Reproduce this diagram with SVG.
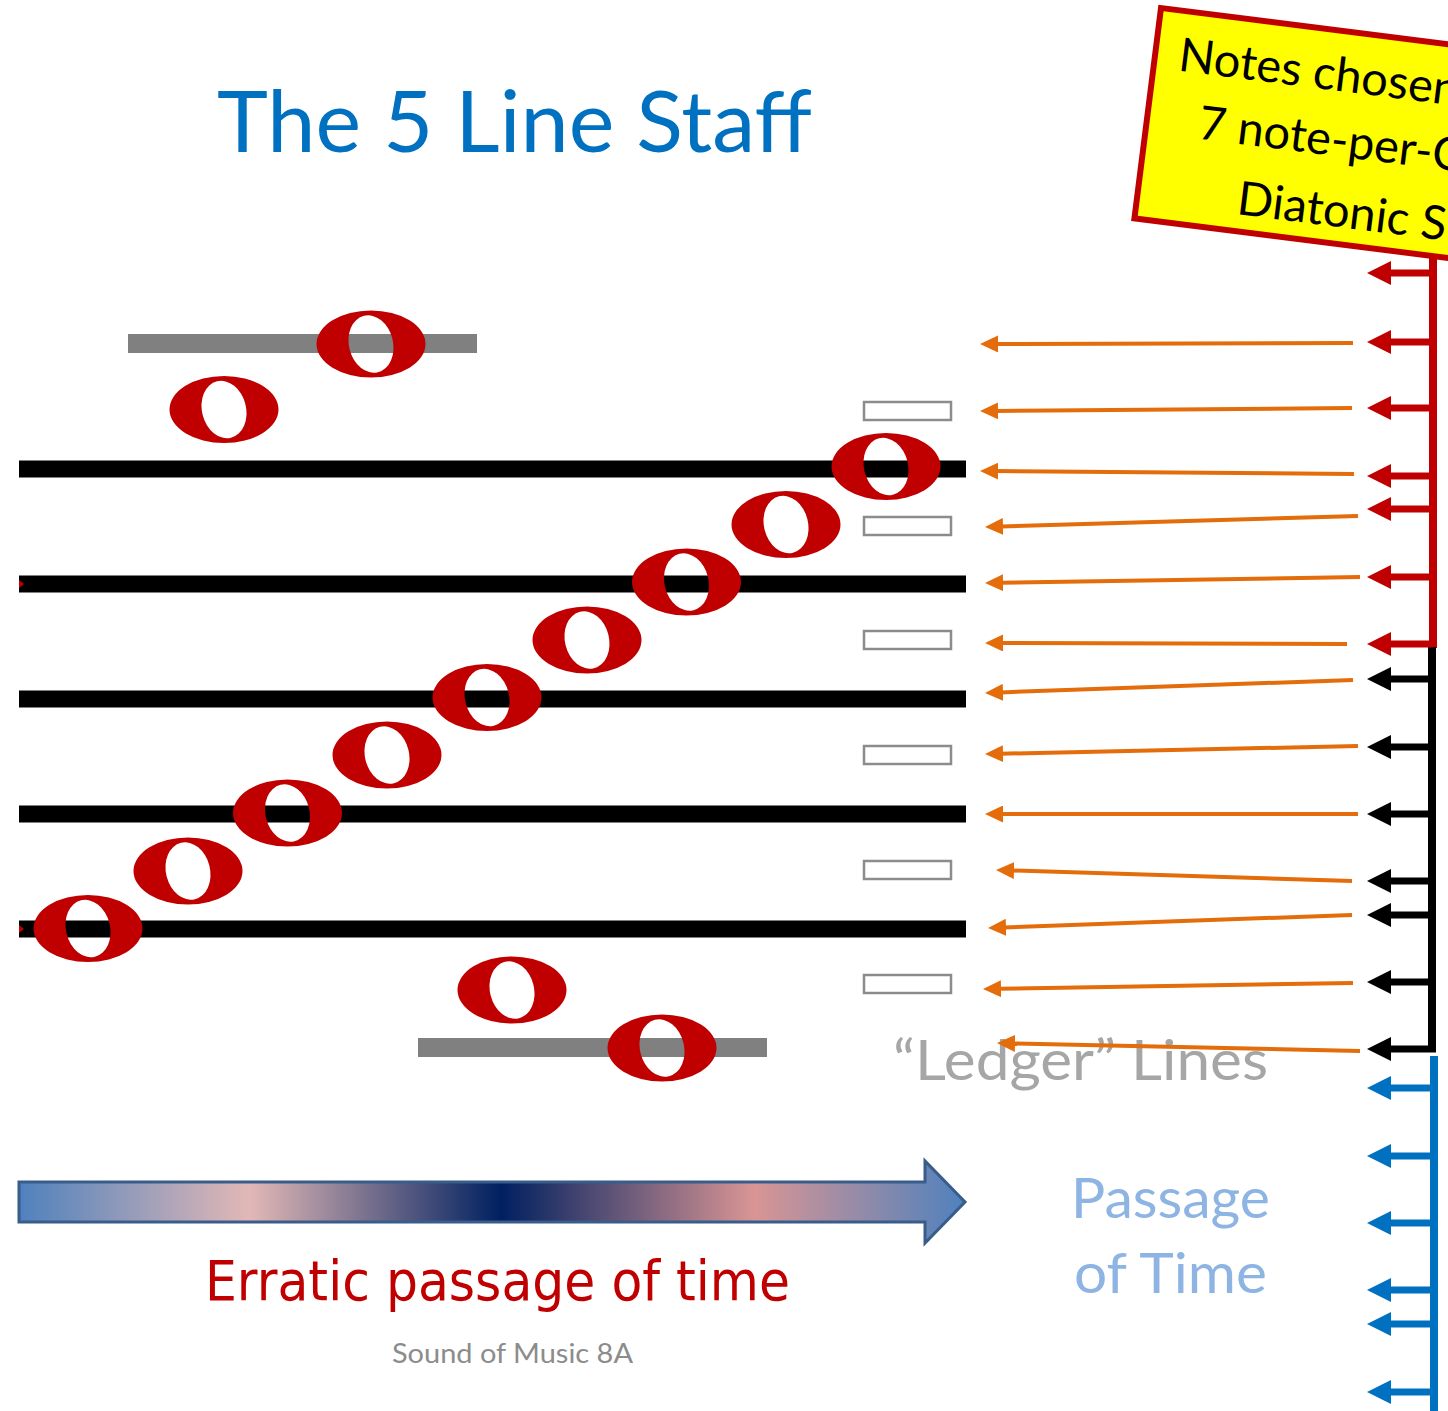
<svg xmlns="http://www.w3.org/2000/svg" width="1448" height="1411" viewBox="0 0 1448 1411">
<style>
.staff{fill:#000}
.ledger{fill:#808080}
.slot{fill:#fff;stroke:#8c8c8c;stroke-width:2.5}
.note{fill:#C00000;fill-rule:evenodd}
.orange{stroke:#E46C0A;stroke-width:4;fill:none;marker-end:url(#mO)}
.red{stroke:#C00000;stroke-width:7;marker-end:url(#mR)}
.black{stroke:#000;stroke-width:7;marker-end:url(#mK)}
.blue{stroke:#0070C0;stroke-width:7;marker-end:url(#mB)}
.sans{font-family:Lato,"Open Sans","Noto Sans",sans-serif}
</style>
<defs>
<path id="note" d="M-54.5,0 A54.5,33.5 0 1 0 54.5,0 A54.5,33.5 0 1 0 -54.5,0 Z M-7,-28.2 A22,29 -14 1 0 7,28.2 A22,29 -14 1 0 -7,-28.2 Z"/>
<marker id="mO" markerUnits="userSpaceOnUse" viewBox="0 0 18 17" markerWidth="18" markerHeight="17" refX="2" refY="8.5" orient="auto"><path d="M0,0 L18,8.5 L0,17 Z" fill="#E46C0A"/></marker>
<marker id="mR" markerUnits="userSpaceOnUse" viewBox="0 0 24 24" markerWidth="24" markerHeight="24" refX="1" refY="12" orient="auto"><path d="M0,0 L24,12 L0,24 Z" fill="#C00000"/></marker>
<marker id="mK" markerUnits="userSpaceOnUse" viewBox="0 0 24 24" markerWidth="24" markerHeight="24" refX="1" refY="12" orient="auto"><path d="M0,0 L24,12 L0,24 Z" fill="#000"/></marker>
<marker id="mB" markerUnits="userSpaceOnUse" viewBox="0 0 24 24" markerWidth="24" markerHeight="24" refX="1" refY="12" orient="auto"><path d="M0,0 L24,12 L0,24 Z" fill="#0070C0"/></marker>
<linearGradient id="gTime" gradientUnits="userSpaceOnUse" x1="19" y1="0" x2="965" y2="0">
<stop offset="0" stop-color="#4F81BD"/>
<stop offset="0.244" stop-color="#E2B8B6"/>
<stop offset="0.51" stop-color="#002060"/>
<stop offset="0.777" stop-color="#D99594"/>
<stop offset="1" stop-color="#4F81BD"/>
</linearGradient>
</defs>
<rect width="1448" height="1411" fill="#fff"/>

<g id="title"><text class="sans" x="217" y="152" font-size="86" fill="#0070C0" textLength="595" lengthAdjust="spacingAndGlyphs">The 5 Line Staff</text></g>

<g id="staff">
<rect class="staff" x="19" y="460.5" width="947" height="17"/>
<rect class="staff" x="19" y="575.5" width="947" height="17"/>
<rect class="staff" x="19" y="690.5" width="947" height="17"/>
<rect class="staff" x="19" y="805.5" width="947" height="17"/>
<rect class="staff" x="19" y="920.5" width="947" height="17"/>
<path d="M19,580 L24,584 L19,588 Z M19,925 L24,929 L19,933 Z" fill="#C00000"/>
</g>

<g id="ledger-lines">
<rect class="ledger" x="128" y="334" width="349" height="19"/>
<rect class="ledger" x="418" y="1038" width="349" height="19"/>
</g>

<g id="ledger-slots">
<rect class="slot" x="864" y="402" width="87" height="18"/>
<rect class="slot" x="864" y="517" width="87" height="18"/>
<rect class="slot" x="864" y="631" width="87" height="18"/>
<rect class="slot" x="864" y="746" width="87" height="18"/>
<rect class="slot" x="864" y="861" width="87" height="18"/>
<rect class="slot" x="864" y="975" width="87" height="18"/>
</g>

<g id="notes">
<use href="#note" class="note" x="224" y="409.5"/>
<use href="#note" class="note" x="371" y="344"/>
<use href="#note" class="note" x="886" y="466.5"/>
<use href="#note" class="note" x="786" y="524.5"/>
<use href="#note" class="note" x="686.5" y="582"/>
<use href="#note" class="note" x="587" y="640"/>
<use href="#note" class="note" x="487" y="697.5"/>
<use href="#note" class="note" x="387" y="755"/>
<use href="#note" class="note" x="287.5" y="813"/>
<use href="#note" class="note" x="188" y="871"/>
<use href="#note" class="note" x="88" y="928.5"/>
<use href="#note" class="note" x="512" y="990"/>
<use href="#note" class="note" x="662" y="1048"/>
</g>

<g id="ledger-label"><text class="sans" x="893" y="1080" font-size="57" fill="#A6A6A6" textLength="375" lengthAdjust="spacingAndGlyphs">“Ledger” Lines</text></g>

<g id="scale-bars">
<rect x="1429" y="255" width="8" height="393" fill="#C00000"/>
<rect x="1428" y="647" width="8" height="404" fill="#000"/>
<rect x="1430" y="1056" width="8" height="360" fill="#0070C0"/>
</g>

<g id="connectors">
<path class="orange" d="M1353,343 L996,344"/>
<path class="orange" d="M1352,408 L996,410.9"/>
<path class="orange" d="M1354,474 L996,471.1"/>
<path class="orange" d="M1358,516 L1001,526.5"/>
<path class="orange" d="M1360,577 L1001,582.7"/>
<path class="orange" d="M1347,644 L1001,643"/>
<path class="orange" d="M1353,680 L1001,692.4"/>
<path class="orange" d="M1358,746 L1001,753.7"/>
<path class="orange" d="M1358,814 L1001,814"/>
<path class="orange" d="M1352,881 L1012,870.5"/>
<path class="orange" d="M1352,915 L1004,927.4"/>
<path class="orange" d="M1353,983 L999,988.7"/>
<path class="orange" d="M1360,1051 L1013,1043.4"/>

<path class="red" d="M1433,273 L1390,273"/>
<path class="red" d="M1433,342 L1390,342"/>
<path class="red" d="M1433,408 L1390,408"/>
<path class="red" d="M1433,476 L1390,476"/>
<path class="red" d="M1433,509 L1390,509"/>
<path class="red" d="M1433,577 L1390,577"/>
<path class="red" d="M1433,644 L1390,644"/>

<path class="black" d="M1432,679 L1390,679"/>
<path class="black" d="M1432,747 L1390,747"/>
<path class="black" d="M1432,814 L1390,814"/>
<path class="black" d="M1432,881 L1390,881"/>
<path class="black" d="M1432,915 L1390,915"/>
<path class="black" d="M1432,982 L1390,982"/>
<path class="black" d="M1436,1049 L1390,1049"/>

<path class="blue" d="M1434,1088 L1390,1088"/>
<path class="blue" d="M1434,1156 L1390,1156"/>
<path class="blue" d="M1434,1223 L1390,1223"/>
<path class="blue" d="M1434,1290 L1390,1290"/>
<path class="blue" d="M1434,1324 L1390,1324"/>
<path class="blue" d="M1434,1392 L1390,1392"/>
</g>

<g id="scale-box" transform="translate(1161,8) rotate(7.2)">
<rect x="0" y="0" width="420" height="212" fill="#FFFF00" stroke="#C00000" stroke-width="6"/>
<text class="sans" font-size="47" fill="#000">
<tspan x="24" y="60">Notes chosen</tspan>
<tspan x="52" y="125">7 note-per-O</tspan>
<tspan x="100" y="195">Diatonic S</tspan>
</text>
</g>

<g id="time-arrow">
<path d="M19,1182 L925,1182 L925,1161 L965,1202 L925,1243 L925,1222 L19,1222 Z" fill="url(#gTime)" stroke="#385D8A" stroke-width="3"/>
</g>

<g id="erratic-label"><text x="205" y="1300" font-family="'DejaVu Sans',sans-serif" font-size="56" fill="#C00000" textLength="585" lengthAdjust="spacingAndGlyphs">Erratic passage of time</text></g>

<g id="footer"><text class="sans" x="392" y="1363" font-size="27" fill="#8C8C8C" textLength="241" lengthAdjust="spacingAndGlyphs">Sound of Music 8A</text></g>

<g id="passage-label">
<text class="sans" x="1071" y="1218" font-size="57" fill="#8DB4E2" textLength="199" lengthAdjust="spacingAndGlyphs">Passage</text>
<text class="sans" x="1074" y="1293" font-size="57" fill="#8DB4E2" textLength="193" lengthAdjust="spacingAndGlyphs">of Time</text>
</g>
</svg>
